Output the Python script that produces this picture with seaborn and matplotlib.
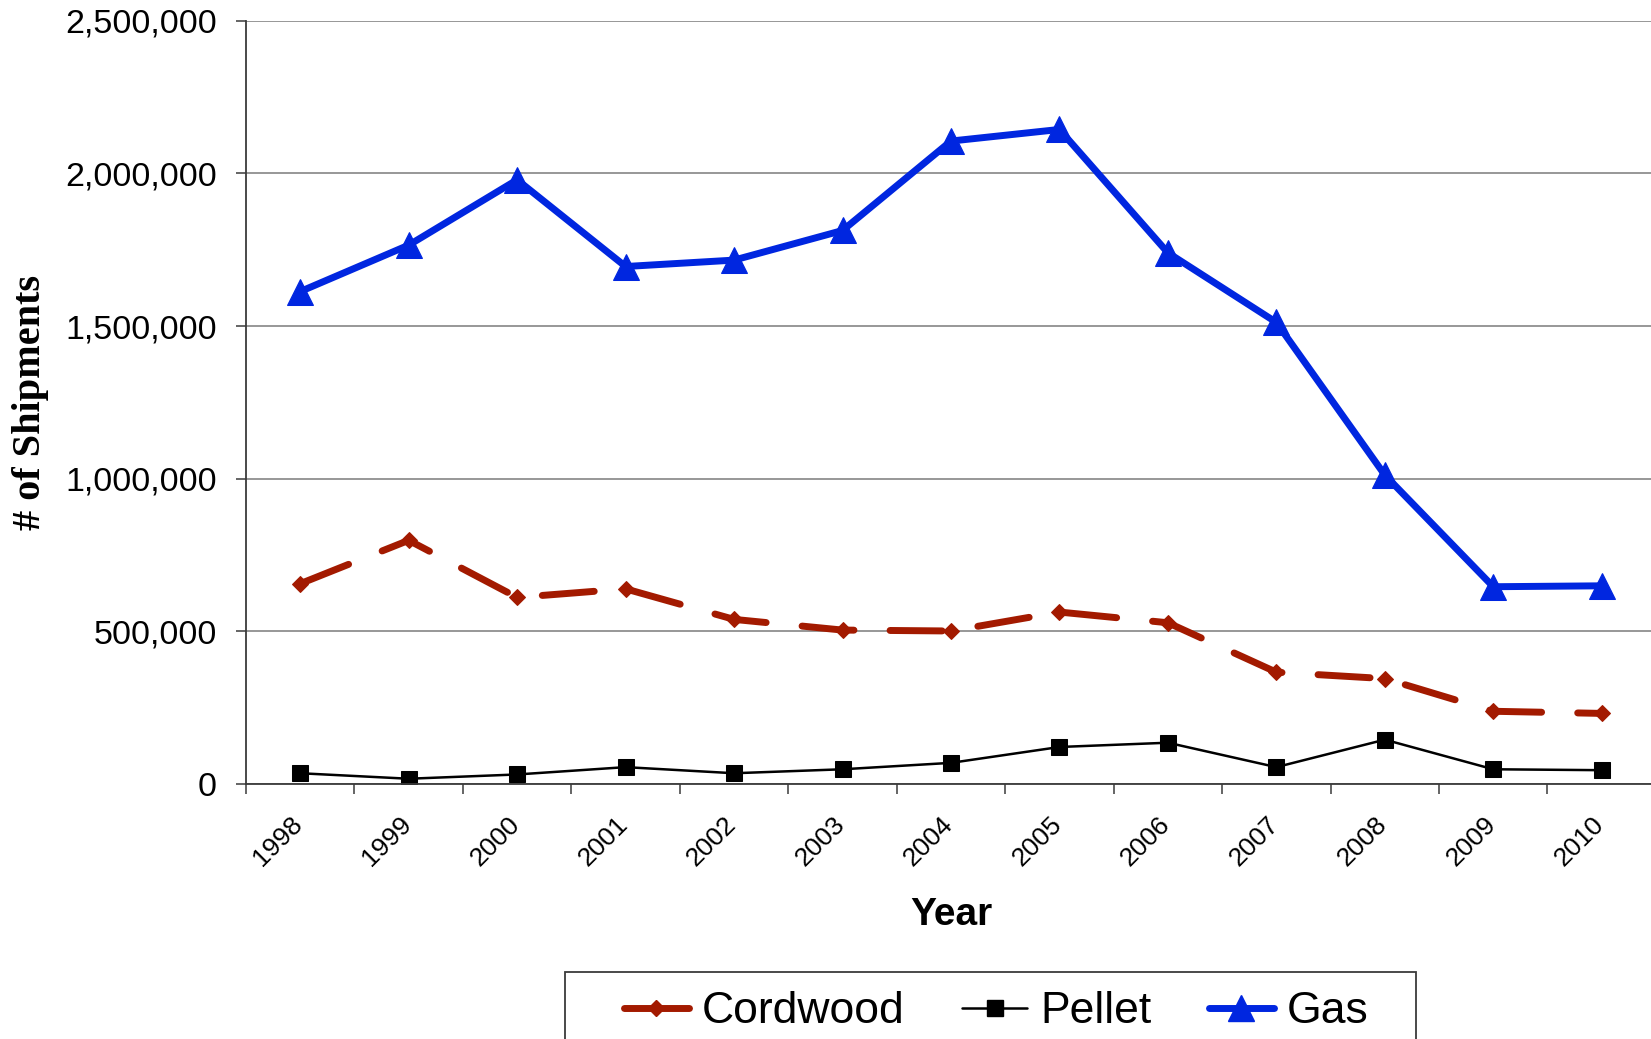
import matplotlib
matplotlib.use("Agg")
import matplotlib.pyplot as plt
import matplotlib.ticker as mticker
from matplotlib.lines import Line2D
from matplotlib.patches import Rectangle
from matplotlib.transforms import ScaledTranslation
import numpy as np
import seaborn as sns

sns.set_theme(style="white")
plt.rcParams["font.family"] = ["Liberation Sans", "DejaVu Sans"]
plt.rcParams["text.color"] = "black"
plt.rcParams["axes.labelcolor"] = "black"
plt.rcParams["xtick.color"] = "black"
plt.rcParams["ytick.color"] = "black"

# data
years = ["1998", "1999", "2000", "2001", "2002", "2003", "2004",
         "2005", "2006", "2007", "2008", "2009", "2010"]
cordwood = [656000, 798000, 611000, 639000, 539000, 504000, 501000,
            563000, 528000, 366000, 345000, 238000, 231000]
pellet = [35000, 17000, 31000, 55000, 35000, 48000, 69000,
          121000, 135000, 55000, 145000, 48000, 45000]
gas = [1613000, 1765000, 1979000, 1695000, 1716000, 1813000, 2106000,
       2144000, 1740000, 1512000, 1012000, 646000, 649000]

RED = "#A31A00"
BLUE = "#0026E0"

fig = plt.figure(figsize=(16.51, 10.39), dpi=100)
ax = fig.add_axes([0.149, 0.2455, 0.854, 0.7345])

x = np.arange(len(years))

sns.lineplot(x=x, y=cordwood, ax=ax, color=RED, lw=5, marker="D",
             markersize=8, markeredgecolor=RED, label="Cordwood")
sns.lineplot(x=x, y=pellet, ax=ax, color="black", lw=1.8, marker="s",
             markersize=12, markeredgecolor="black", label="Pellet")
sns.lineplot(x=x, y=gas, ax=ax, color=BLUE, lw=5, marker="^",
             markersize=19, markeredgecolor=BLUE, label="Gas")

cord_line = ax.lines[0]
cord_line.set_dashes((7.5, 5.2))
cord_line.set_dash_capstyle("round")
ax.lines[2].set_solid_joinstyle("round")
ax.get_legend().remove()

ax.set_xlim(-0.5, 12.5)
ax.set_ylim(0, 2500000)
ax.set_yticks(np.arange(0, 2500001, 500000))
ax.yaxis.set_major_formatter(mticker.FuncFormatter(lambda v, p: f"{v:,.0f}"))
ax.yaxis.grid(True, color="#7a7a7a", lw=1.1)
ax.xaxis.grid(False)
ax.set_axisbelow(True)

for s in ["top", "right"]:
    ax.spines[s].set_visible(False)
for s in ["left", "bottom"]:
    ax.spines[s].set_color("#3a3a3a")
    ax.spines[s].set_linewidth(1.3)

ax.set_xticks(x)
ax.set_xticklabels(years, rotation=45, ha="right", fontsize=19)
ax.set_xticks(np.arange(-0.5, 13, 1), minor=True)
ax.tick_params(axis="x", which="major", length=0, pad=20)
ax.tick_params(axis="x", which="minor", length=7, width=1.1, color="#3a3a3a",
               direction="out", bottom=True)
ax.tick_params(axis="y", length=7, width=1.1, color="#3a3a3a", direction="out",
               left=True, labelsize=24.5, pad=14)
for lab in ax.get_xticklabels():
    lab.set_transform(lab.get_transform() + ScaledTranslation(0.07, 0, fig.dpi_scale_trans))

ax.set_ylabel("# of Shipments", fontsize=29, fontweight="bold",
              family=["Liberation Serif", "DejaVu Serif"])
ax.yaxis.set_label_coords(-0.1395, 0.5)
ax.set_xlabel("Year", fontsize=28, fontweight="bold")
ax.xaxis.set_label_coords(0.5, -0.148)

# legend
handles = [
    Line2D([], [], color=RED, lw=5, marker="D", markersize=8, solid_capstyle="round"),
    Line2D([], [], color="black", lw=1.8, marker="s", markersize=12),
    Line2D([], [], color=BLUE, lw=5, marker="^", markersize=19, solid_capstyle="round"),
]
fig.legend(handles, ["Cordwood", "Pellet", "Gas"], loc="center",
           bbox_to_anchor=(0.6035, 0.026), ncol=3, frameon=False, fontsize=32,
           handlelength=1.45, handletextpad=0.3, columnspacing=1.3, borderpad=0)
fig.patches.append(Rectangle((0.3425, -0.1), 0.5153, 0.1648, transform=fig.transFigure,
                             fill=False, edgecolor="#3a3a3a", lw=1.3))

fig.savefig("out.png", dpi=100)
plt.close()
